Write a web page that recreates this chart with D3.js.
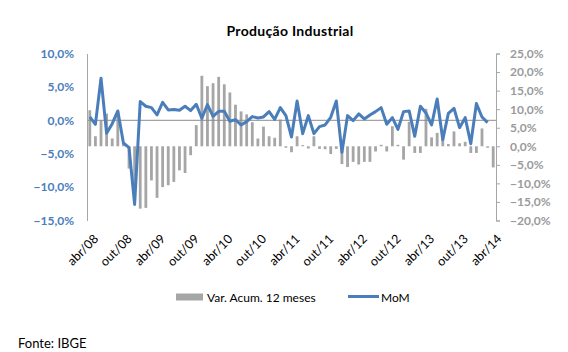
<!DOCTYPE html>
<html>
<head>
<meta charset="utf-8">
<script src="https://cdn.jsdelivr.net/npm/d3@7"></script>
<style>
  body { margin: 0; background: #fff; }
  text { font-family: Lato, "Open Sans", sans-serif; }
</style>
</head>
<body>
<div id="chart"></div>
<script>
// meses abr/08 .. abr/14
const meses = ["jan", "fev", "mar", "abr", "mai", "jun", "jul", "ago", "set", "out", "nov", "dez"];
const categorias = [];
for (let i = 0; i < 73; i++) {
  const m = (3 + i) % 12;
  const a = 8 + Math.floor((3 + i) / 12);
  categorias.push(meses[m] + "/" + String(a).padStart(2, "0"));
}

// Var. Acum. 12 meses (eixo da direita, %)
const varAcum = [
  9.7, 2.7, 7.0, 8.8, 2.1, 9.5, 0.8, -6.0, -14.5, -16.8, -16.6, -9.2,
  -13.9, -11.0, -10.5, -9.6, -6.5, -7.2, -2.4, 5.7, 19.0, 16.2, 17.0, 18.7,
  16.7, 14.5, 11.2, 9.4, 8.6, 6.5, 2.1, 5.3, 2.7, 2.3, 7.2, -0.4,
  -1.6, 2.7, 0.3, -0.6, 2.7, -0.7, -0.8, -2.1, -0.7, -4.8, -5.6, -4.2,
  -4.9, -4.2, -4.2, -1.4, 0.4, -1.4, 5.4, 0.4, -3.6, 6.6, -1.8, -1.8,
  10.1, 2.4, 3.6, 2.5, 0.6, 4.0, 0.8, 1.2, -1.8, -1.8, 4.8, -0.4, -5.7
];

// MoM (eixo da esquerda, %)
const mom = [
  0.5, -0.6, 6.3, -1.95, -0.5, 1.4, -3.4, -4.1, -12.6, 2.8, 2.1, 1.9,
  0.8, 2.7, 1.55, 1.6, 1.5, 2.1, 1.45, 2.4, 0.3, 2.35, 0.6, 1.35,
  1.35, -0.15, 0.1, -0.7, -0.2, 0.55, 0.35, 0.5, 1.3, 0.15, 1.9, 0.7,
  -2.5, 2.9, -2.0, 0.7, -2.0, -0.95, -0.7, 0.45, 2.9, -4.8, 0.7, -0.05,
  0.95, 0.2, 0.8, 1.3, 1.9, -0.6, 0.4, -1.35, 1.3, 1.4, -2.4, 2.1,
  1.1, -0.7, 3.2, -2.9, 1.05, 1.8, -1.1, 0.4, -3.5, 2.5, 0.5, -0.35, null
];

const ticksEsq = [-15, -10, -5, 0, 5, 10];
const ticksDir = [-20, -15, -10, -5, 0, 5, 10, 15, 20, 25];

const width = 568, height = 352;
const plot = { left: 87, right: 496, top: 53.5, bottom: 220.5 };

const azul = "#4a7ebb";
const cinza = "#a6a6a6";
const fmt = (v) => d3.format(".1f")(v).replace(".", ",") + "%";

const svg = d3.select("#chart").append("svg")
  .attr("width", width)
  .attr("height", height);

const x = d3.scaleBand()
  .domain(categorias)
  .range([plot.left, plot.right])
  .paddingInner(0.5)
  .paddingOuter(0.25);
const cx = (d) => x(d) + x.bandwidth() / 2;

const yEsq = d3.scaleLinear().domain([-15, 10]).range([plot.bottom, plot.top]);
const yDir = d3.scaleLinear().domain([-20, 25]).range([plot.bottom, plot.top]);

// título
svg.append("text")
  .attr("x", 290)
  .attr("y", 30)
  .attr("text-anchor", "middle")
  .attr("dominant-baseline", "central")
  .style("font-size", "14px")
  .style("font-weight", "bold")
  .style("letter-spacing", "0.3px")
  .text("Produção Industrial");

// barras
svg.selectAll(".barra")
  .data(varAcum)
  .enter()
  .append("rect")
  .attr("class", "barra")
  .attr("x", (d, i) => x(categorias[i]))
  .attr("y", (d) => yDir(Math.max(0, d)))
  .attr("width", x.bandwidth())
  .attr("height", (d) => Math.abs(yDir(d) - yDir(0)))
  .attr("fill", cinza);

// linha do zero (eixo de categorias)
svg.append("line")
  .attr("x1", plot.left)
  .attr("x2", plot.right)
  .attr("y1", yEsq(0))
  .attr("y2", yEsq(0))
  .attr("stroke", "#8c8c8c")
  .attr("stroke-width", 1);

// eixo esquerdo
const eixoEsq = svg.append("g")
  .attr("transform", `translate(${plot.left},0)`)
  .call(d3.axisLeft(yEsq).tickValues(ticksEsq).tickFormat(fmt).tickSize(0).tickPadding(13));
eixoEsq.select(".domain").attr("stroke", cinza);
eixoEsq.selectAll("text")
  .attr("fill", azul)
  .style("font-size", "12px")
  .style("font-weight", "bold");

// eixo direito
const eixoDir = svg.append("g")
  .attr("transform", `translate(${plot.right},0)`)
  .call(d3.axisRight(yDir).tickValues(ticksDir).tickFormat(fmt).tickSize(4).tickSizeOuter(4).tickPadding(10));
eixoDir.selectAll(".domain, line").attr("stroke", cinza);
eixoDir.selectAll("text")
  .attr("fill", "#9a9a9a")
  .style("font-size", "12px")
  .style("font-weight", "bold");

// linha MoM
const linha = d3.line()
  .defined((d) => d !== null)
  .x((d, i) => cx(categorias[i]))
  .y((d) => yEsq(d));

svg.append("path")
  .datum(mom)
  .attr("fill", "none")
  .attr("stroke", azul)
  .attr("stroke-width", 3)
  .attr("stroke-linejoin", "round")
  .attr("d", linha);

// rótulos do eixo x
const eixoX = svg.append("g")
  .attr("transform", `translate(0,${plot.bottom + 14})`)
  .call(d3.axisBottom(x).tickValues(categorias.filter((d, i) => i % 6 === 0)).tickSize(0));
eixoX.select(".domain").remove();
eixoX.selectAll("text")
  .attr("fill", "#000")
  .style("font-size", "12.5px")
  .attr("text-anchor", "end")
  .attr("dy", "0.35em")
  .attr("transform", "translate(4,0) rotate(-45)");

// legenda
svg.append("rect")
  .attr("x", 176).attr("y", 293.5)
  .attr("width", 27).attr("height", 7)
  .attr("fill", cinza);
svg.append("text")
  .attr("x", 207).attr("y", 297)
  .attr("dominant-baseline", "central")
  .style("font-size", "12px")
  .text("Var. Acum. 12 meses");
svg.append("line")
  .attr("x1", 348).attr("x2", 379)
  .attr("y1", 296.5).attr("y2", 296.5)
  .attr("stroke", azul)
  .attr("stroke-width", 3);
svg.append("text")
  .attr("x", 381).attr("y", 297)
  .attr("dominant-baseline", "central")
  .style("font-size", "12px")
  .text("MoM");

// fonte
svg.append("text")
  .attr("x", 18).attr("y", 343)
  .attr("dominant-baseline", "central")
  .style("font-size", "13px")
  .text("Fonte: IBGE");
</script>
</body>
</html>
